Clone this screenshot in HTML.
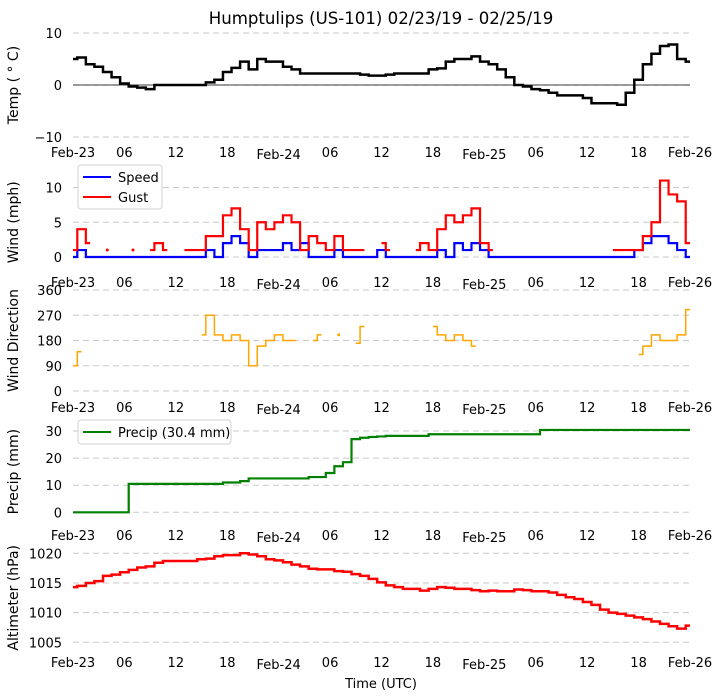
<!DOCTYPE html>
<html><head><meta charset="utf-8">
<style>
body{margin:0;background:#fff;}
svg{display:block;font-family:"DejaVu Sans","Liberation Sans",sans-serif;}
</style></head>
<body>
<svg id="chart" width="722" height="700" viewBox="0 0 722 700">
<text x="381" y="24" font-size="16.6" text-anchor="middle">Humptulips (US-101) 02/23/19 - 02/25/19</text>
<text x="381" y="688" font-size="13" text-anchor="middle">Time (UTC)</text>
</svg>
<script>
const hours = Array.from({length:73},(_,i)=>i);
const xTickLabels = ["Feb-23","06","12","18","Feb-24","06","12","18","Feb-25","06","12","18","Feb-26"];
const tempValues = [5,5.3,4,3.5,2.5,1.5,0.3,-0.3,-0.5,-0.8,0,0,0,0,0,0,0.5,1,2.5,3.3,4.5,3,5,4.5,4.5,3.5,3,2.2,2.2,2.2,2.2,2.2,2.2,2.2,2,1.8,1.8,2,2.2,2.2,2.2,2.2,3,3.2,4.5,5,5,5.5,4.5,4,3,1.5,0,-0.3,-0.8,-1,-1.5,-2,-2,-2,-2.5,-3.5,-3.5,-3.5,-3.8,-1.5,1,4,6,7.5,7.8,5,4.5];
const tempTicks = [-10,0,10];
const speedValues = [0,1,0,0,0,0,0,0,0,0,0,0,0,0,0,0,1,0,2,3,2,0,1,1,1,2,1,2,0,0,0,1,0,0,0,0,1,0,0,0,0,0,0,1,0,2,1,2,1,0,0,0,0,0,0,0,0,0,0,0,0,0,0,0,0,0,1,2,3,3,2,1,0];
const gustValues = [1,4,2,null,1,null,null,1,null,1,2,1,null,1,1,1,3,3,6,7,4,1,5,4,5,6,5,1,3,2,1,3,1,1,1,null,2,1,null,null,1,2,1,4,6,5,6,7,2,1,null,null,null,null,null,null,null,null,null,null,null,null,null,1,1,1,1,3,5,11,9,8,2];
const windTicks = [0,5,10];
const dirValues = [90,140,null,null,null,null,null,null,null,null,null,null,null,null,null,200,270,200,180,200,180,90,160,180,200,180,180,null,180,200,null,200,null,170,230,null,null,null,null,null,null,null,230,200,180,200,180,160,null,null,null,null,null,null,null,null,null,null,null,null,null,null,null,null,null,null,130,160,200,180,180,200,290];
const dirTicks = [0,90,180,270,360];
const precipValues = [0,0,0,0,0,0,0,10.5,10.5,10.5,10.5,10.5,10.5,10.5,10.5,10.5,10.5,10.5,11,11,11.5,12.5,12.5,12.5,12.5,12.5,12.5,12.5,13,13,14.5,17,18.5,27,27.5,27.8,28,28.2,28.2,28.2,28.2,28.2,28.8,28.8,28.8,28.8,28.8,28.8,28.8,28.8,28.8,28.8,28.8,28.8,28.8,30.4,30.4,30.4,30.4,30.4,30.4,30.4,30.4,30.4,30.4,30.4,30.4,30.4,30.4,30.4,30.4,30.4,30.4];
const precipTicks = [0,10,20,30];
const altValues = [1014.3,1014.5,1015,1015.3,1016.2,1016.4,1016.8,1017.2,1017.6,1017.8,1018.4,1018.7,1018.7,1018.7,1018.7,1019,1019.1,1019.5,1019.7,1019.7,1020,1019.8,1019.5,1019,1018.8,1018.5,1018.1,1017.8,1017.4,1017.3,1017.3,1017,1016.9,1016.5,1016.2,1015.7,1015.1,1014.6,1014.3,1014,1014,1013.7,1014,1014.3,1014.2,1014,1014,1013.8,1013.6,1013.7,1013.6,1013.6,1013.9,1013.8,1013.6,1013.6,1013.4,1013,1012.6,1012.3,1011.8,1011.3,1010.5,1010,1009.8,1009.5,1009.2,1008.9,1008.5,1008.1,1007.7,1007.3,1007.8];
const altTicks = [1005,1010,1015,1020];

const NS="http://www.w3.org/2000/svg";
const svg=document.getElementById('chart');
const X0=73,X1=690;
const xs=h=>X0+(X1-X0)*h/72;
function mk(tag,attrs,parent){const e=document.createElementNS(NS,tag);for(const k in attrs)e.setAttribute(k,attrs[k]);(parent||svg).appendChild(e);return e;}
function lin(d0,d1,p0,p1){return v=>p0+(v-d0)*(p1-p0)/(d1-d0);}

function panel(name,ylabel,ticks,ys,xlabY,labX){
  const g=mk('g',{});
  
  
  ticks.forEach(t=>{
    const y=ys(t);
    const l=mk('line',{x1:X0,x2:X1,y1:y,y2:y,stroke:'#c8c8c8','stroke-width':1,'stroke-dasharray':'6,4'},g);
    
    
    const tx=mk('text',{x:62,y:y+5,'font-size':13,'text-anchor':'end'},g);
    tx.textContent=(t<0?'\u2212'+(-t):t);
    
    
  });
  xTickLabels.forEach((s,i)=>{
    const tx=mk('text',{x:xs(i*6),y:xlabY+((i===4||i===8)?2:0),'font-size':13,'text-anchor':'middle'},g);
    tx.textContent=s;
    
    
  });
  const yl=mk('text',{x:0,y:0,'font-size':14,'text-anchor':'middle',transform:`translate(${labX},${(ys(ticks[0])+ys(ticks[ticks.length-1]))/2}) rotate(-90)`},g);
  yl.textContent=ylabel;
  
  
  return g;
}
function series(g,name,vals,ys,color,w){
  let segs=[],cur=[];
  vals.forEach((v,i)=>{if(v===null){if(cur.length)segs.push(cur);cur=[];}else cur.push([xs(hours[i]),ys(v)]);});
  if(cur.length)segs.push(cur);
  segs.forEach(s=>{
    if(s.length===1){const c=mk('circle',{cx:s[0][0],cy:s[0][1],r:1.5,fill:color},g);
      
      }
    else{
      const pts=[];
      s.forEach((q,k)=>{if(k>0){const m=(s[k-1][0]+q[0])/2;pts.push([m,s[k-1][1]]);pts.push([m,q[1]]);}pts.push(q);});
      const p=mk('polyline',{points:pts.map(q=>q.join(',')).join(' '),fill:'none',stroke:color,'stroke-width':w,'stroke-linejoin':'miter'},g);
      
      }
  });
}
function legend(g,name,x,y,w,items){
  const r=mk('rect',{x:x,y:y,width:w,height:items.length*20+4,rx:3,fill:'#fff',stroke:'#d0d0d0'},g);
  
  
  items.forEach((it,i)=>{
    const cy=y+12+i*20;
    const l=mk('line',{x1:x+5,x2:x+33,y1:cy,y2:cy,stroke:it[1],'stroke-width':2},g);
    
    
    const t=mk('text',{x:x+40,y:cy+5,'font-size':13},g);
    t.textContent=it[0];
    
    
  });
}

// Temp
const yT=lin(-10,10,137,33);
const gT=panel('temp','Temp ( \u00b0 C)',tempTicks,yT,157,18);
const z=mk('line',{x1:X0,x2:X1,y1:yT(0),y2:yT(0),stroke:'#000','stroke-width':0.8},gT);


series(gT,'temp',tempValues,yT,'#000',2.5);
// Wind
const yW=lin(0,10,257,187.5);
const gW=panel('wind','Wind (mph)',windTicks,yW,287,18);
series(gW,'speed',speedValues,yW,'#0000ff',2.2);
series(gW,'gust',gustValues,yW,'#ff0000',2.2);
legend(gW,'wind',78,165,84,[['Speed','#0000ff'],['Gust','#ff0000']]);
// Direction
const yD=lin(0,360,391,290);
const gD=panel('direction','Wind Direction',dirTicks,yD,412,18);
series(gD,'direction',dirValues,yD,'#ffa500',1.5);
// Precip
const yP=lin(0,30,512.3,431);
const gP=panel('precip','Precip (mm)',precipTicks,yP,540,18);
series(gP,'precip',precipValues,yP,'#008000',2.2);
legend(gP,'precip',78,420,153,[['Precip (30.4 mm)','#008000']]);
// Altimeter
const yA=lin(1005,1020,642.3,553.3);
const gA=panel('altimeter','Altimeter (hPa)',altTicks,yA,667,18);
series(gA,'altimeter',altValues,yA,'#ff0000',2.5);
</script>
</body></html>
